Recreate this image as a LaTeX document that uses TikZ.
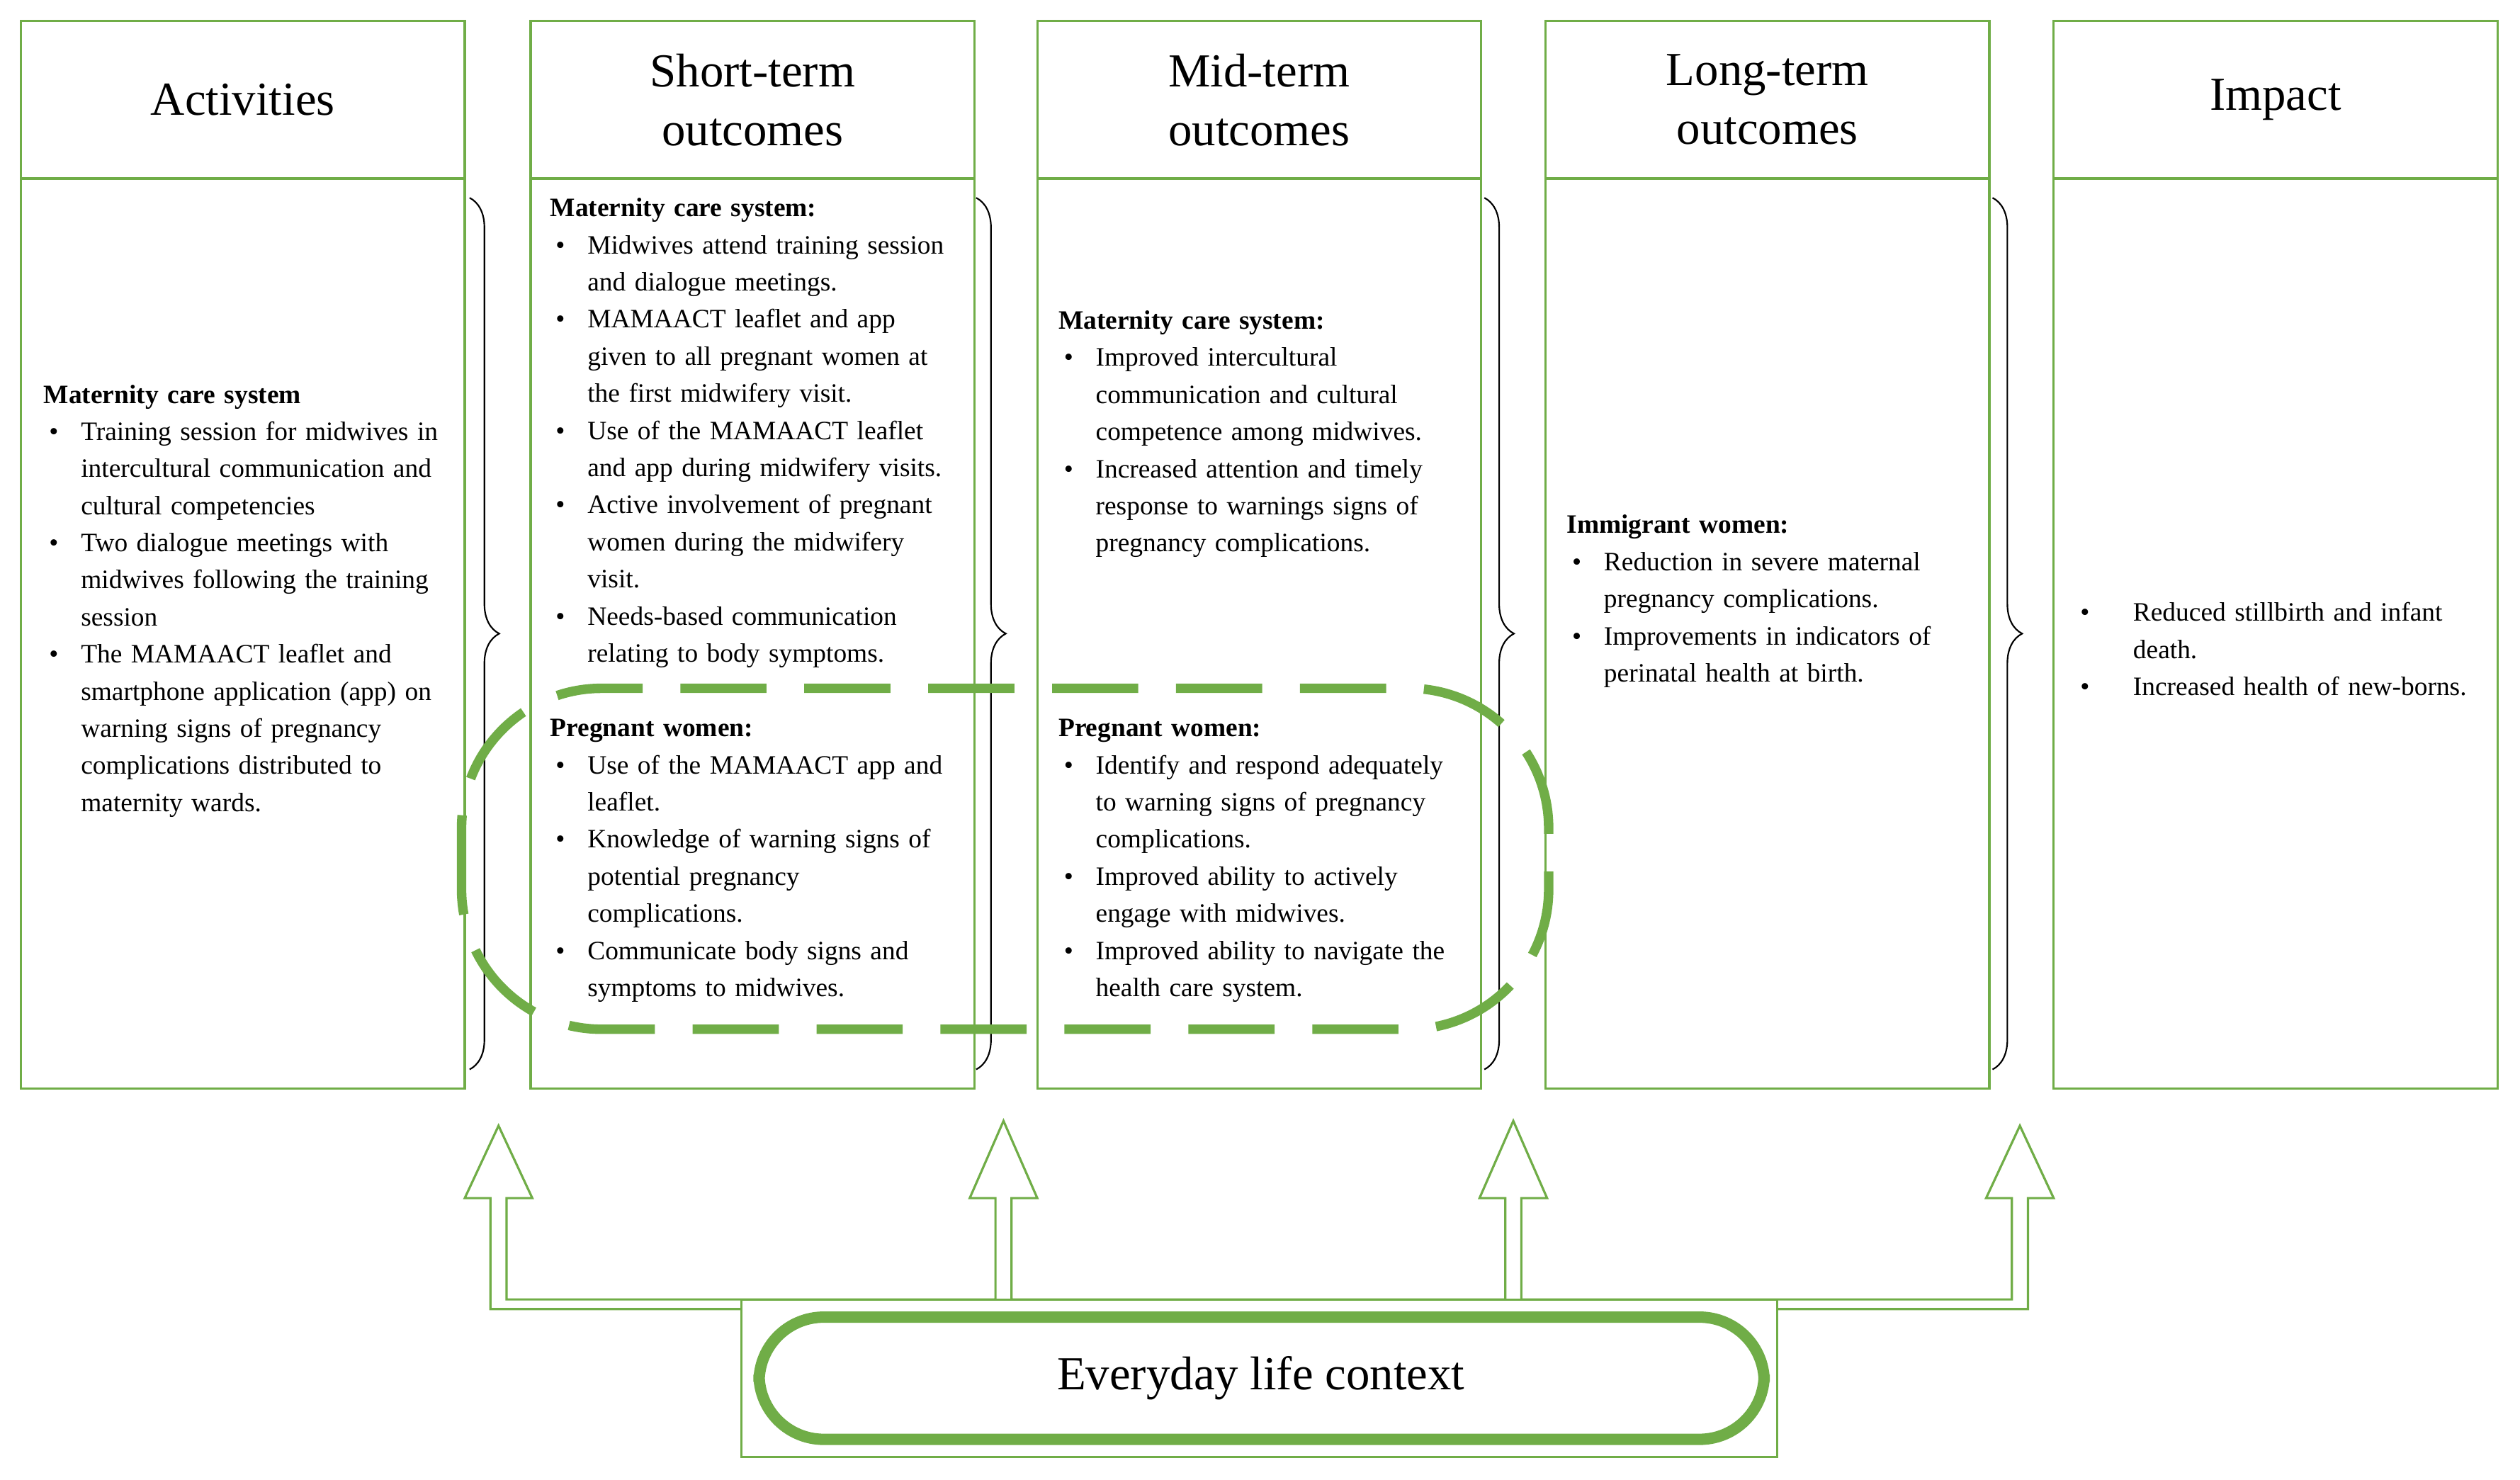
\documentclass[tikz,border=0pt]{standalone}
\usepackage{fontspec}
\setmainfont{Liberation Serif}
\usetikzlibrary{decorations.pathreplacing}
\definecolor{grn}{RGB}{112,173,71}
\newcommand\bi[1]{\par\noindent\hangindent=0.69cm\hangafter=1\makebox[0.69cm][l]{\hspace{0.1cm}\textbullet}#1\par}
\newcommand\bj[1]{\par\noindent\hangindent=1.08cm\hangafter=1\makebox[1.08cm][l]{\hspace{0.1cm}\textbullet}#1\par}
\tikzset{
 box/.style={draw=grn,line width=1.2pt},
 ttl/.style={font=\fontsize{25}{31}\selectfont,align=center},
 txt/.style={anchor=north west,inner sep=0pt,text width=8.5cm,font=\fontsize{14}{19.6}\selectfont,align=left},
 br/.style={decorate,decoration={brace,amplitude=0.55cm},line width=0.8pt},
 arr/.style={draw=grn,line width=1.2pt}
}
\begin{document}
\begin{tikzpicture}[x=0.02985cm,y=-0.02985cm]
\useasboundingbox (0,0) rectangle (1567,920);
\foreach \n/\x in {a/13,s/330,m/645,l/961,i/1277}{
 \draw[box] (\x,13) rectangle ++(276,664);
 \draw[box] (\x,111) -- ++(276,0);
 \coordinate (\n) at (\x+138,62);
}
\node[ttl] (ta) at (a) {Activities};
\node[ttl] (ts) at (s) {Short-term\\outcomes};
\node[ttl] (tm) at (m) {Mid-term\\outcomes};
\node[ttl] (tl) at (l) {Long-term\\outcomes};
\node[ttl] (ti) at (i) {Impact};
\foreach \x in {292,607,923,1239}{
 \draw[br] (\x,123) -- (\x,665);
}
\node[txt] (xa) at (27,239) {\textbf{Maternity care system}
\bi{Training session for midwives in\newline intercultural communication and\newline cultural competencies}
\bi{Two dialogue meetings with\newline midwives following the training\newline session}
\bi{The MAMAACT leaflet and\newline smartphone application (app) on\newline warning signs of pregnancy\newline complications distributed to\newline maternity wards.}};
\node[txt] (xs) at (342,123) {\textbf{Maternity care system:}
\bi{Midwives attend training session\newline and dialogue meetings.}
\bi{MAMAACT leaflet and app\newline given to all pregnant women at\newline the first midwifery visit.}
\bi{Use of the MAMAACT leaflet\newline and app during midwifery visits.}
\bi{Active involvement of pregnant\newline women during the midwifery\newline visit.}
\bi{Needs-based communication\newline relating to body symptoms.}};
\node[txt] (xs2) at (342,447) {\textbf{Pregnant women:}
\bi{Use of the MAMAACT app and\newline leaflet.}
\bi{Knowledge of warning signs of\newline potential pregnancy\newline complications.}
\bi{Communicate body signs and\newline symptoms to midwives.}};
\node[txt] (xm) at (658,193) {\textbf{Maternity care system:}
\bi{Improved intercultural\newline communication and cultural\newline competence among midwives.}
\bi{Increased attention and timely\newline response to warnings signs of\newline pregnancy complications.}};
\node[txt] (xm2) at (658,447) {\textbf{Pregnant women:}
\bi{Identify and respond adequately\newline to warning signs of pregnancy\newline complications.}
\bi{Improved ability to actively\newline engage with midwives.}
\bi{Improved ability to navigate the\newline health care system.}};
\node[txt] (xl) at (974,320) {\textbf{Immigrant women:}
\bi{Reduction in severe maternal\newline pregnancy complications.}
\bi{Improvements in indicators of\newline perinatal health at birth.}};
\node[txt] (xi) at (1290,363) {\bj{Reduced stillbirth and infant\newline death.}
\bj{Increased health of new-borns.}};
\draw[grn,line width=5pt,dash pattern=on 1.6cm off 0.7cm,rounded corners=2.6cm] (287,428) rectangle (963,640);
\draw[arr] (461,808) rectangle (1105,906);
\draw[arr] (461,814)--(305,814)--(305,745)--(289,745)--(310,700)--(331,745)--(315,745)--(315,808)
 --(619,808)--(619,745)--(603,745)--(624,697)--(645,745)--(629,745)--(629,808)
 --(936,808)--(936,745)--(920,745)--(941,697)--(962,745)--(946,745)--(946,808)
 --(1251,808)--(1251,745)--(1235,745)--(1256,700)--(1277,745)--(1261,745)--(1261,814)--(1105,814);
\draw[grn,line width=6pt,rounded corners=1.2cm] (472,819) rectangle (1097,895);
\node[font=\fontsize{25}{31}\selectfont] (ev) at (784,857) {Everyday life context};
\end{tikzpicture}
\end{document}
